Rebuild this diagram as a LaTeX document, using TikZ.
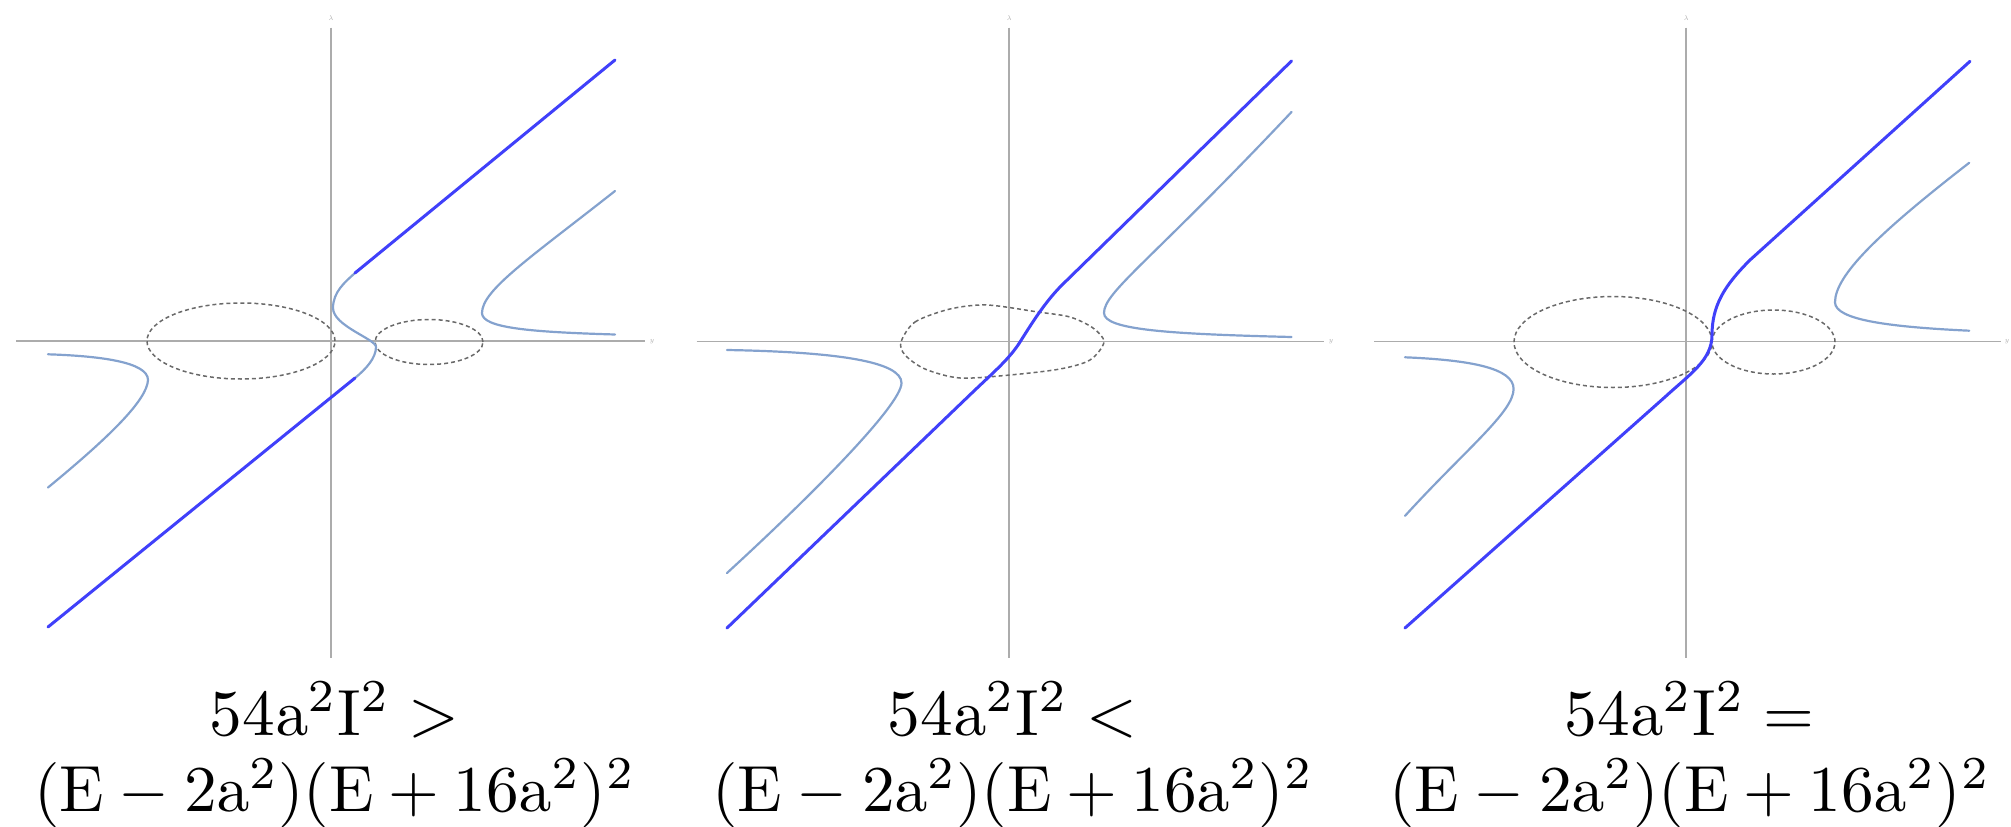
\documentclass[tikz,border=0pt]{standalone}
\definecolor{dkblue}{RGB}{64,64,250}
\definecolor{ltblue}{RGB}{132,162,206}
\definecolor{axgray}{RGB}{172,172,172}
\definecolor{dsgray}{RGB}{105,105,105}
\tikzset{
  axisline/.style={draw=axgray, line width=1.8bp},
  dkcurve/.style={draw=dkblue, line width=3bp, line cap=round, line join=round},
  ltcurve/.style={draw=ltblue, line width=2.2bp, line cap=round, line join=round},
  dashell/.style={draw=dsgray, line width=1.5bp, dash pattern=on 4bp off 3bp},
  eqtext/.style={anchor=base, inner sep=0pt, font=\fontsize{10}{12}\selectfont, scale=6.555, transform shape},
  axlabel/.style={inner sep=0pt, text=axgray, font=\fontsize{7}{8}\selectfont}
}
\begin{document}
\begin{tikzpicture}[x=1bp,y=-1bp]
\useasboundingbox (0,0) rectangle (2011,827);

% ---------------- Panel 1 ----------------
\draw[axisline] (331,27.5) -- (331,657.5);
\draw[axisline] (16,341) -- (645,341);
\node[axlabel] (p1lam) at (331,18) {$\lambda$};
\node[axlabel] (p1y) at (652,342) {$y$};
\draw[dashell] (241,341) ellipse [x radius=94bp, y radius=38bp];
\draw[dashell] (429,342) ellipse [x radius=54bp, y radius=22.5bp];
\draw[ltcurve] (48,354.3) .. controls (100,356) and (148,362) .. (148,380)
  .. controls (147,400) and (110,436.5) .. (48,487.5);
\draw[ltcurve] (615,191) .. controls (530,258) and (482,290) .. (482,313)
  .. controls (482,328) and (530,332) .. (615,334.5);
\draw[ltcurve] (355,378) .. controls (366,369) and (376,358) .. (376,347)
  .. controls (376,339) and (333,326) .. (333,308)
  .. controls (333,292) and (345,282) .. (355,273);
\draw[dkcurve] (48,627) -- (355,378);
\draw[dkcurve] (355,273) -- (615,60);

% ---------------- Panel 2 ----------------
\draw[axisline] (1009.3,27.5) -- (1009.3,657.5);
\draw[axisline] (696.6,341.5) -- (1323.6,341.5);
\node[axlabel] (p2lam) at (1009.3,18) {$\lambda$};
\node[axlabel] (p2y) at (1331,342) {$y$};
\draw[dashell] plot[smooth cycle] coordinates {(901,342) (915,322) (950,309) (987,305) (1038,312) (1070,317) (1093,328) (1104,342) (1090,360) (1060,369) (1010,375) (960,378) (925,369) (905,355)};
\draw[ltcurve] (1291.5,112) .. controls (1150,262) and (1104,292) .. (1104,313)
  .. controls (1104,330) and (1170,334) .. (1291.5,337);
\draw[ltcurve] (727,350) .. controls (840,352) and (901.5,362) .. (901.5,383)
  .. controls (901.5,405) and (810,497) .. (727,573);
\draw[dkcurve] (727,628) -- (975,390)
  .. controls (995,371) and (1010,358) .. (1020,342)
  .. controls (1032,323) and (1045,302) .. (1062,285) -- (1291.5,61);

% ---------------- Panel 3 ----------------
\draw[axisline] (1686.3,27.5) -- (1686.3,657.5);
\draw[axisline] (1374,341.5) -- (2001,341.5);
\node[axlabel] (p3lam) at (1686.3,18) {$\lambda$};
\node[axlabel] (p3y) at (2007,342) {$y$};
\draw[dashell] (1613,342) ellipse [x radius=99bp, y radius=45.5bp];
\draw[dashell] (1773.5,342) ellipse [x radius=61.5bp, y radius=32bp];
\draw[ltcurve] (1969.2,162.8) .. controls (1880,232) and (1835,275) .. (1835,302.3)
  .. controls (1835,320) and (1890,327) .. (1969.2,330.7);
\draw[ltcurve] (1405,357.3) .. controls (1470,360) and (1513.6,368) .. (1513.6,389)
  .. controls (1513.6,412) and (1465,450) .. (1405,515.9);
\draw[dkcurve] (1405,628) -- (1665,397)
  .. controls (1690,374) and (1712,360) .. (1712,335)
  .. controls (1712,305) and (1725,285) .. (1750,260) -- (1970,61.3);

% ---------------- Labels ----------------
\node[eqtext] (t1a) at (334.5,735) {$54\mathrm{a}^2\mathrm{I}^2 >$};
\node[eqtext] (t1b) at (335,811.7) {$(\mathrm{E}-2\mathrm{a}^2)(\mathrm{E}+16\mathrm{a}^2)^2$};
\node[eqtext] (t2a) at (1012.5,735) {$54\mathrm{a}^2\mathrm{I}^2 <$};
\node[eqtext] (t2b) at (1013,811.7) {$(\mathrm{E}-2\mathrm{a}^2)(\mathrm{E}+16\mathrm{a}^2)^2$};
\node[eqtext] (t3a) at (1689.5,735) {$54\mathrm{a}^2\mathrm{I}^2 =$};
\node[eqtext] (t3b) at (1690,811.7) {$(\mathrm{E}-2\mathrm{a}^2)(\mathrm{E}+16\mathrm{a}^2)^2$};
\end{tikzpicture}
\end{document}
